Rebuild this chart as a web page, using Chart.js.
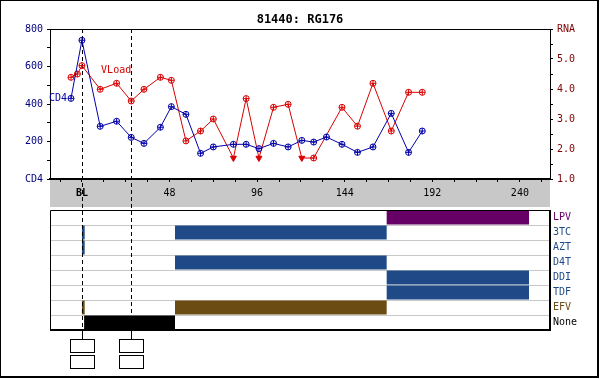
<!DOCTYPE html>
<html><head><meta charset="utf-8">
<script src="https://cdn.jsdelivr.net/npm/chart.js@4/dist/chart.umd.min.js"></script>
<style>
html,body{margin:0;padding:0;background:#fff;}
#wrap{position:relative;width:600px;height:379px;overflow:hidden;}
#frame{position:absolute;left:0;top:0;width:599px;height:378px;box-sizing:border-box;border-left:1px solid #000;border-top:1px solid #000;border-right:2px solid #000;border-bottom:2px solid #000;}
canvas{position:absolute;left:0;top:0;}
</style></head><body>
<div id="wrap"><div id="frame"></div><canvas id="drug" width="600" height="379"></canvas><canvas id="lab" width="600" height="379"></canvas></div>
<script>
// ---------- data ----------
const chartTitle = '81440: RG176';
const cd4Weeks  = [-6, 0, 10, 19, 27, 34, 43, 49, 57, 65, 72, 83, 90, 97, 105, 113, 120.5, 127, 134, 142.5, 151, 159.5, 169.5, 179, 186.5];
const cd4Values = [430, 740, 281, 308, 222, 190, 276, 386, 345, 137, 171, 185, 185, 162, 190, 171, 206, 197, 224, 185, 142, 171, 350, 142, 256];
const rnaWeeks  = [-6, -2.5, 0, 10, 19, 27, 34, 43, 49, 57, 65, 72, 83, 90, 97, 105, 113, 120.5, 127, 142.5, 151, 159.5, 169.5, 179, 186.5];
const rnaValues = [4.39, 4.5, 4.78, 3.99, 4.19, 3.6, 3.99, 4.39, 4.29, 2.27, 2.6, 3.0, 1.7, 3.68, 1.7, 3.39, 3.49, 1.7, 1.7, 3.39, 2.76, 4.19, 2.6, 3.89, 3.89];
const rnaBelowLimit = [false,false,false,false,false,false,false,false,false,false,false,false,true,false,true,false,false,true,false,false,false,false,false,false,false];
const markerWeeks = [0, 27];
const xLabelWeeks = [0, 48, 96, 144, 192, 240];
const xLabelTexts = ['BL', '48', '96', '144', '192', '240'];
const cd4LabelValues = [0, 200, 400, 600, 800];
const cd4LabelTexts  = ['CD4', '200', '400', '600', '800'];
const rnaLabelValues = [1, 2, 3, 4, 5, 6];
const rnaLabelTexts  = ['1.0', '2.0', '3.0', '4.0', '5.0', 'RNA'];
const drugNames = ['LPV', '3TC', 'AZT', 'D4T', 'DDI', 'TDF', 'EFV', 'None'];
const segDrug  = ['3TC', 'AZT', 'EFV', 'None', '3TC', 'D4T', 'EFV', 'LPV', 'DDI', 'TDF'];
const segStart = [0, 0, 0, 1.2, 51, 51, 51, 167, 167, 167];
const segEnd   = [1.5, 1.5, 1.5, 51, 167, 167, 167, 245, 245, 245];

// ---------- styles ----------
const MONO = '"DejaVu Sans Mono", monospace';
const X_MIN = -17.5, X_MAX = 256.5;
const BLUE = '#0000a8', RED = '#d80000';
const drugColor = {LPV:'#660066','3TC':'#1f4a87',AZT:'#1f4a87',D4T:'#1f4a87',DDI:'#1f4a87',TDF:'#1f4a87',EFV:'#6b4c13',None:'#000000'};
const drugLabelColor = {LPV:'#660066','3TC':'#1f4a87',AZT:'#1f4a87',D4T:'#1f4a87',DDI:'#1f4a87',TDF:'#1f4a87',EFV:'#6b4c13',None:'#000000'};
const near = (a, b) => Math.abs(a - b) < 1e-6;

// ---------- drug panel ----------
const drugFrame = {
  id: 'drugFrame',
  afterDraw(chart) {
    const {ctx, chartArea: a} = chart;
    ctx.save();
    ctx.strokeStyle = '#000';
    ctx.lineWidth = 1;
    ctx.beginPath();
    ctx.moveTo(a.left + 0.5, a.bottom); ctx.lineTo(a.left + 0.5, a.top + 0.5); ctx.lineTo(a.right, a.top + 0.5);
    ctx.stroke();
    ctx.lineWidth = 2;
    ctx.beginPath();
    ctx.moveTo(a.right, a.top); ctx.lineTo(a.right, a.bottom); ctx.lineTo(a.left, a.bottom);
    ctx.stroke();
    ctx.restore();
  }
};
const drugChart = new Chart(document.getElementById('drug'), {
  type: 'bar',
  data: {
    labels: drugNames,
    datasets: [{
      data: segDrug.map((d, i) => ({y: d, x: [segStart[i], segEnd[i]]})),
      backgroundColor: c => drugColor[c.raw.y],
      borderWidth: 0,
      borderSkipped: false,
      barPercentage: 0.93,
      categoryPercentage: 1
    }]
  },
  options: {
    indexAxis: 'y',
    responsive: false,
    animation: false,
    events: [],
    layout: {padding: {top: 210, bottom: 49, left: 50, right: 0}},
    plugins: {legend: {display: false}, tooltip: {enabled: false}},
    scales: {
      x: {type: 'linear', min: X_MIN, max: X_MAX, display: false},
      y: {
        type: 'category', position: 'right',
        afterFit(s) { s.width = 50; },
        grid: {color: '#c8c8c8', offset: true, drawTicks: false},
        border: {display: false},
        ticks: {color: c => drugLabelColor[drugNames[c.index]], font: {family: MONO, size: 10}, padding: 3}
      }
    }
  },
  plugins: [drugFrame]
});

// ---------- lab chart ----------
const topDecor = {
  id: 'topDecor',
  beforeDraw(chart) {
    const {ctx, chartArea: a} = chart;
    ctx.save();
    ctx.fillStyle = '#c8c8c8';
    ctx.fillRect(a.left, a.bottom, a.right - a.left, 28);
    ctx.restore();
  },
  beforeDatasetsDraw(chart) {
    const {ctx, chartArea: a, scales: {x}} = chart;
    const panelBottom = drugChart.chartArea.bottom;
    ctx.save();
    ctx.strokeStyle = '#000';
    ctx.lineWidth = 1;
    ctx.beginPath(); ctx.moveTo(a.left, a.top + 0.5); ctx.lineTo(a.right, a.top + 0.5); ctx.stroke();
    markerWeeks.forEach(w => {
      const px = Math.round(x.getPixelForValue(w)) + 0.5;
      ctx.setLineDash([4, 3]);
      ctx.beginPath(); ctx.moveTo(px, a.top); ctx.lineTo(px, panelBottom); ctx.stroke();
      ctx.setLineDash([]);
      ctx.beginPath(); ctx.moveTo(px, panelBottom); ctx.lineTo(px, panelBottom + 9); ctx.stroke();
      ctx.strokeRect(px - 12, panelBottom + 9.5, 24, 13);
      ctx.strokeRect(px - 12, panelBottom + 25.5, 24, 13);
    });
    ctx.restore();
  },
  afterDraw(chart) {
    const {ctx, scales: {x, y, y2}} = chart;
    ctx.save();
    ctx.fillStyle = '#000';
    ctx.font = 'bold 12px ' + MONO;
    ctx.textAlign = 'center'; ctx.textBaseline = 'middle';
    ctx.fillText(chartTitle, 300, 20);
    ctx.font = '10px ' + MONO;
    ctx.fillStyle = BLUE; ctx.textAlign = 'right';
    ctx.fillText('CD4', x.getPixelForValue(cd4Weeks[0]) - 4, y.getPixelForValue(cd4Values[0]));
    ctx.fillStyle = RED; ctx.textAlign = 'left';
    ctx.fillText('VLoad', x.getPixelForValue(10.5), y2.getPixelForValue(4.63));
    ctx.restore();
  }
};

new Chart(document.getElementById('lab'), {
  type: 'line',
  data: {
    datasets: [
      {
        data: cd4Weeks.map((w, i) => ({x: w, y: cd4Values[i]})), yAxisID: 'y',
        borderColor: BLUE, borderWidth: 1, tension: 0,
        pointStyle: 'circle', pointRadius: 3, pointBorderColor: BLUE, pointBackgroundColor: 'rgba(0,0,0,0)', pointBorderWidth: 1
      },
      {
        data: cd4Weeks.map((w, i) => ({x: w, y: cd4Values[i]})), yAxisID: 'y', showLine: false,
        pointStyle: 'cross', pointRadius: 3, pointBorderColor: BLUE, pointBorderWidth: 1
      },
      {
        data: rnaWeeks.map((w, i) => ({x: w, y: rnaValues[i]})), yAxisID: 'y2',
        borderColor: RED, borderWidth: 1, tension: 0,
        pointStyle: c => rnaBelowLimit[c.dataIndex] ? 'triangle' : 'circle',
        rotation: c => rnaBelowLimit[c.dataIndex] ? 180 : 0,
        pointRadius: c => rnaBelowLimit[c.dataIndex] ? 3.5 : 3,
        pointBorderColor: RED,
        pointBackgroundColor: c => rnaBelowLimit[c.dataIndex] ? RED : 'rgba(0,0,0,0)',
        pointBorderWidth: 1
      },
      {
        data: rnaWeeks.map((w, i) => ({x: w, y: rnaValues[i]})), yAxisID: 'y2', showLine: false,
        pointStyle: 'cross', pointRadius: c => rnaBelowLimit[c.dataIndex] ? 0 : 3, pointBorderColor: RED, pointBorderWidth: 1
      }
    ]
  },
  options: {
    responsive: false,
    animation: false,
    events: [],
    layout: {padding: {top: 29, bottom: 169, left: 0, right: 0}},
    plugins: {legend: {display: false}, tooltip: {enabled: false}},
    scales: {
      x: {
        type: 'linear', min: X_MIN, max: X_MAX,
        afterFit(s) { s.height = 31; },
        grid: {drawOnChartArea: false, drawTicks: true, tickLength: 3, color: '#000'},
        border: {display: true, color: '#000', width: 2},
        ticks: {
          stepSize: 12, includeBounds: false, autoSkip: false, maxRotation: 0, padding: 5, color: '#000',
          font: c => ({family: MONO, size: 10, weight: (c.tick && c.tick.value === 0) ? 'bold' : 'normal'}),
          callback: v => { const i = xLabelWeeks.indexOf(v); return i >= 0 ? xLabelTexts[i] : ''; }
        }
      },
      y: {
        type: 'linear', position: 'left', min: 0, max: 800,
        afterFit(s) { s.width = 50; },
        grid: {drawOnChartArea: false, drawTicks: true, tickLength: 3, color: '#000'},
        border: {display: true, color: '#000', width: 1},
        ticks: {
          stepSize: 100, autoSkip: false, padding: 4, color: '#000080', font: {family: MONO, size: 10},
          callback: v => { const i = cd4LabelValues.findIndex(t => near(t, v)); return i >= 0 ? cd4LabelTexts[i] : ''; }
        }
      },
      y2: {
        type: 'linear', position: 'right', min: 1, max: 6,
        afterFit(s) { s.width = 50; },
        grid: {drawOnChartArea: false, drawTicks: true, tickLength: 3, color: '#000'},
        border: {display: true, color: '#000', width: 1},
        ticks: {
          stepSize: 0.5, autoSkip: false, padding: 4, color: '#800000', font: {family: MONO, size: 10},
          callback: v => { const i = rnaLabelValues.findIndex(t => near(t, v)); return i >= 0 ? rnaLabelTexts[i] : ''; }
        }
      }
    }
  },
  plugins: [topDecor]
});
</script>
</body></html>
